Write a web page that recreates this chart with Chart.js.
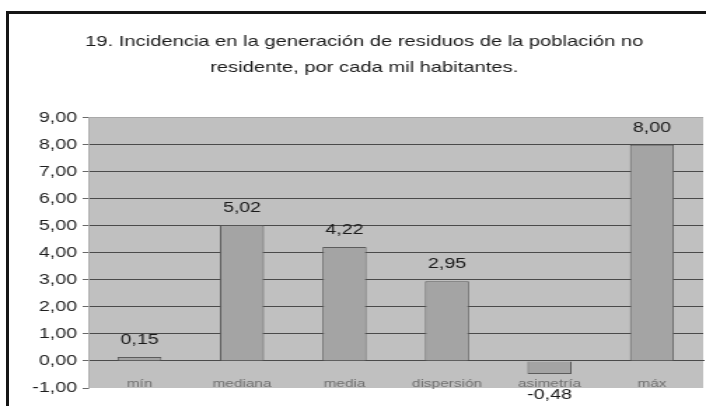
<!DOCTYPE html>
<html>
<head>
<meta charset="utf-8">
<script src="https://cdn.jsdelivr.net/npm/chart.js@4"></script>
<style>
  html, body { margin: 0; padding: 0; background: #fff; overflow: hidden; }
  #frame {
    position: absolute; left: 6px; top: 11px; width: 720px; height: 420px;
    border: 3px solid #151515; box-sizing: border-box;
  }
  #wrap {
    position: absolute; left: 0; top: 0; width: 504px; height: 406px;
    transform: scaleX(1.4008); transform-origin: 0 0;
  }
</style>
</head>
<body>
<div id="frame"></div>
<div id="wrap"><canvas id="c" width="504" height="406"></canvas></div>
<script>
// indicadores estadísticos por cada mil habitantes
const categorias = ['mín', 'mediana', 'media', 'dispersión', 'asimetría', 'máx'];
const valores = [0.15, 5.02, 4.22, 2.95, -0.48, 8.00];
const titulo = [
    '19. Incidencia en la generación de residuos de la población no',
    'residente, por cada mil habitantes.'
];
const ejeMin = -1;
const ejeMax = 9;

const coma = v => v.toFixed(2).replace('.', ',');

// fondo gris del área de trazado
const fondoPlot = {
    id: 'fondoPlot',
    beforeDraw(chart) {
        const { ctx, chartArea: a } = chart;
        ctx.save();
        ctx.fillStyle = '#c0c0c0';
        ctx.fillRect(a.left, a.top, a.right - a.left, a.bottom - a.top);
        ctx.restore();
    }
};

// etiquetas de valor encima (o debajo) de cada barra
const etiquetas = {
    id: 'etiquetas',
    afterDatasetsDraw(chart) {
        const { ctx } = chart;
        const meta = chart.getDatasetMeta(0);
        ctx.save();
        ctx.font = '14px "Liberation Sans", Arial, sans-serif';
        ctx.fillStyle = '#1a1a1a';
        ctx.textAlign = 'center';
        ctx.textBaseline = 'middle';
        meta.data.forEach((bar, i) => {
            const v = valores[i];
            const y = v >= 0 ? bar.y - 17 : bar.y + 21;
            ctx.fillText(coma(v), bar.x, y);
        });
        ctx.restore();
    }
};

new Chart(document.getElementById('c'), {
    type: 'bar',
    data: {
        labels: categorias,
        datasets: [{
            data: valores,
            backgroundColor: '#a4a4a4',
            borderColor: '#5c5c5c',
            borderWidth: 1,
            barPercentage: 0.43,
            categoryPercentage: 1
        }]
    },
    options: {
        responsive: false,
        animation: false,
        layout: { padding: { left: 18, right: 2, top: 0, bottom: 18 } },
        plugins: {
            legend: { display: false },
            tooltip: { enabled: false },
            title: {
                display: true,
                text: titulo,
                color: '#1a1a1a',
                font: { family: '"Liberation Sans", Arial, sans-serif', size: 14.4, weight: 'normal', lineHeight: 1.8 },
                padding: { top: 29, bottom: 37 }
            }
        },
        scales: {
            x: {
                position: { y: 0 },
                grid: { display: false, drawTicks: false },
                border: { display: true, color: '#4a4a4a', width: 1 },
                ticks: {
                    padding: 16,
                    color: '#707070',
                    font: { family: '"Liberation Sans", Arial, sans-serif', size: 11 }
                }
            },
            y: {
                min: ejeMin,
                max: ejeMax,
                afterFit: s => { s.width = 45; },
                grid: {
                    color: c => (c.tick.value === ejeMin ? 'rgba(0,0,0,0)' : c.tick.value === ejeMax ? '#a9a9a9' : '#4a4a4a'),
                    tickLength: 4,
                    tickColor: '#6a6a6a'
                },
                border: { display: true, color: '#adadad' },
                ticks: {
                    stepSize: 1,
                    padding: 4,
                    color: '#1e1e1e',
                    font: { family: '"Liberation Sans", Arial, sans-serif', size: 14 },
                    callback: v => coma(v)
                }
            }
        }
    },
    plugins: [fondoPlot, etiquetas]
});
</script>
</body>
</html>
